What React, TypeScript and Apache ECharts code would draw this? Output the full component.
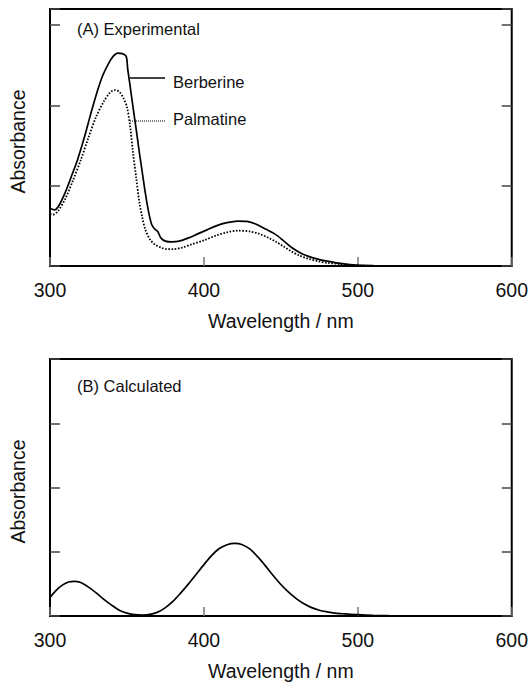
import React, { useEffect, useRef } from "react";
import * as echarts from "echarts";

// ---- Data ----
const xTicks = [300, 400, 500, 600];

const berberineWl = [
  300, 303, 306, 310, 314, 318, 322, 326, 330, 334, 338, 341, 344, 347, 349.5,
  350.5, 352, 354, 356, 358, 360, 362, 364, 366, 368, 370, 372, 375, 379, 384,
  390, 396, 402, 408, 415, 422, 428, 434, 440, 446, 452, 457, 463, 468, 474,
  480, 486, 492, 500, 510, 525, 550,
];
const berberineAbs = [
  0.72, 0.7, 0.76, 0.92, 1.12, 1.33, 1.58, 1.86, 2.13, 2.36, 2.52, 2.61, 2.65,
  2.645, 2.61, 2.45, 2.25, 1.97, 1.7, 1.42, 1.16, 0.9, 0.68, 0.52, 0.46, 0.43,
  0.35, 0.31, 0.3, 0.31, 0.35, 0.4, 0.45, 0.5, 0.54, 0.56, 0.555, 0.52, 0.46,
  0.4, 0.31, 0.23, 0.16, 0.12, 0.085, 0.06, 0.04, 0.025, 0.01, 0.004, 0.001, 0,
];

const palmatineWl = [
  300, 302, 305, 310, 315, 320, 325, 330, 335, 339, 342, 345, 348, 350, 352,
  354, 356, 358, 360, 362, 365, 368, 372, 376, 380, 386, 392, 400, 408, 415,
  422, 430, 436, 442, 447, 452, 457, 462, 468, 474, 480, 488, 495, 500, 510,
  530, 550,
];
const palmatineAbs = [
  0.65, 0.64, 0.68, 0.84, 1.07, 1.32, 1.6, 1.86, 2.05, 2.16, 2.19, 2.17, 2.08,
  1.98, 1.75, 1.4, 1.1, 0.8, 0.6, 0.45, 0.33, 0.27, 0.23, 0.21, 0.21, 0.23,
  0.27, 0.32, 0.38, 0.42, 0.44, 0.43, 0.4, 0.35, 0.3, 0.24, 0.18, 0.13, 0.09,
  0.06, 0.04, 0.025, 0.012, 0.005, 0.002, 0, 0,
];

const calculatedWl = [
  300, 304, 308, 312, 316, 320, 325, 330, 335, 340, 345, 350, 355, 360, 365,
  370, 375, 380, 385, 390, 395, 400, 405, 410, 415, 420, 425, 430, 435, 440,
  445, 450, 455, 460, 465, 470, 475, 480, 485, 490, 495, 500, 510, 520, 530,
  550,
];
const calculatedAbs = [
  0.29, 0.4, 0.48, 0.53, 0.54, 0.52, 0.45, 0.36, 0.26, 0.17, 0.09, 0.045, 0.02,
  0.015, 0.025, 0.06, 0.13, 0.23, 0.36, 0.5, 0.65, 0.8, 0.94, 1.05, 1.11, 1.13,
  1.11, 1.04, 0.92, 0.78, 0.63, 0.49, 0.37, 0.27, 0.19, 0.13, 0.09, 0.065,
  0.045, 0.035, 0.025, 0.02, 0.01, 0.005, 0.003, 0,
];

const panelTitles = ["(A) Experimental", "(B) Calculated"];
const legendNames = ["Berberine", "Palmatine"];
const xName = "Wavelength / nm";
const yName = "Absorbance";

const FONT = "'Liberation Sans', Arial, Helvetica, sans-serif";
const BIG = 19.5;

const pair = (xs: number[], ys: number[]) => xs.map((x, i) => [x, ys[i]]);

export default function App() {
  const ref = useRef<HTMLDivElement | null>(null);

  useEffect(() => {
    if (!ref.current) return;
    const chart = echarts.init(ref.current, undefined, { renderer: "svg" });

    const grids = [
      { left: 50, top: 9, width: 465, height: 257 },
      { left: 50, top: 359, width: 465, height: 257 },
    ];

    const xAxisFor = (gi: number) => ({
      type: "value",
      gridIndex: gi,
      min: xTicks[0],
      max: xTicks[xTicks.length - 1],
      interval: 100,
      name: xName,
      nameLocation: "middle",
      nameGap: 45,
      nameTextStyle: { fontFamily: FONT, fontSize: BIG, color: "#111" },
      axisLine: { show: false },
      axisTick: {
        show: true,
        inside: true,
        length: 9,
        lineStyle: { color: "#777", width: 1.5 },
      },
      axisLabel: {
        show: true,
        margin: 14,
        fontFamily: FONT,
        fontSize: BIG,
        color: "#111",
      },
      splitLine: { show: false },
    });

    const yAxisFor = (gi: number, max: number, right: boolean) => ({
      type: "value",
      gridIndex: gi,
      position: right ? "right" : "left",
      min: 0,
      max,
      interval: 1,
      name: right ? "" : yName,
      nameLocation: "middle",
      nameGap: 22,
      nameRotate: 90,
      nameTextStyle: {
        fontFamily: FONT,
        fontSize: BIG,
        color: "#111",
        padding: [0, 8, 0, 0],
      },
      axisLine: { show: false },
      axisTick: {
        show: true,
        inside: true,
        length: 10,
        lineStyle: { color: "#444", width: 1.5 },
      },
      axisLabel: { show: false },
      splitLine: { show: false },
    });

    const lineSeries = (
      name: string,
      data: number[][],
      xi: number,
      yi: number,
      dotted: boolean
    ) => ({
      type: "line",
      name,
      data,
      xAxisIndex: xi,
      yAxisIndex: yi,
      showSymbol: false,
      symbol: "none",
      smooth: 0.3,
      clip: true,
      lineStyle: {
        color: "#000",
        width: dotted ? 1.8 : 1.7,
        type: dotted ? [1.6, 1.6] : "solid",
      },
      emphasis: { disabled: true },
    });

    const txt = (text: string, x: number, y: number, size: number) => ({
      type: "text",
      x,
      y,
      style: {
        text,
        fill: "#111",
        fontFamily: FONT,
        fontSize: size,
        font: `${size}px ${FONT}`,
        textAlign: "left",
        textVerticalAlign: "middle",
        align: "left",
        verticalAlign: "middle",
      },
    });

    chart.setOption({
      animation: false,
      backgroundColor: "#fff",
      grid: grids.map((g) => ({
        ...g,
        show: true,
        borderColor: "#000",
        borderWidth: 2,
        backgroundColor: "transparent",
        containLabel: false,
      })),
      xAxis: [xAxisFor(0), xAxisFor(1)],
      yAxis: [
        yAxisFor(0, 3.2, false),
        yAxisFor(0, 3.2, true),
        yAxisFor(1, 4, false),
        yAxisFor(1, 4, true),
      ],
      series: [
        lineSeries(legendNames[0], pair(berberineWl, berberineAbs), 0, 0, false),
        lineSeries(legendNames[1], pair(palmatineWl, palmatineAbs), 0, 0, true),
        lineSeries("Calculated", pair(calculatedWl, calculatedAbs), 1, 2, false),
      ],
      graphic: [
        txt(panelTitles[0], 77, 29, 16.5),
        txt(panelTitles[1], 77, 386, 16.5),
        txt(legendNames[0], 173, 82, 16.5),
        txt(legendNames[1], 173, 119, 16.5),
        {
          type: "line",
          shape: { x1: 130, y1: 78, x2: 165, y2: 78 },
          style: { stroke: "#000", lineWidth: 1.3 },
        },
        {
          type: "line",
          shape: { x1: 130, y1: 121, x2: 166, y2: 121 },
          style: { stroke: "#000", lineWidth: 1, lineDash: [1, 1] },
        },
      ],
    });

    return () => chart.dispose();
  }, []);

  return (
    <div
      ref={ref}
      style={{ position: "fixed", left: 0, top: 0, width: 531, height: 683 }}
    />
  );
}
